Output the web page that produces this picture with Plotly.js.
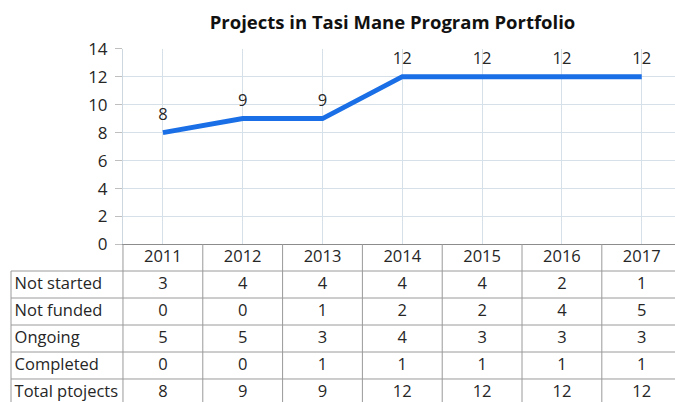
<!DOCTYPE html>
<html>
<head>
<meta charset="utf-8">
<script src="https://cdn.plot.ly/plotly-3.0.1.min.js"></script>
<style>
  html, body { margin: 0; padding: 0; background: #fff; }
  #gd { width: 675px; height: 402px; }
</style>
</head>
<body>
<div id="gd"></div>
<script>
// chart data
const years = ['2011', '2012', '2013', '2014', '2015', '2016', '2017'];
const totalProjects = [8, 9, 9, 12, 12, 12, 12];

// data table rows
const rowLabels = ['Not started', 'Not funded', 'Ongoing', 'Completed', 'Total ptojects'];
const notStarted = [3, 4, 4, 4, 4, 2, 1];
const notFunded = [0, 0, 1, 2, 2, 4, 5];
const ongoing = [5, 5, 3, 4, 3, 3, 3];
const completed = [0, 0, 1, 1, 1, 1, 1];
const tableRows = [notStarted, notFunded, ongoing, completed, totalProjects];

const FONT = '"Open Sans", "DejaVu Sans", sans-serif';
const TXT = '#262626';
const GRID = '#d6e0e9';
const BORDER = '#9a9a9a';
const LABEL_LEFT = -1.903;   // left border of the label column, in table x units
const FS = 16.5;

const idx = years.map((_, i) => i);

const traces = [];

// the line with its value labels
traces.push({
    x: years,
    y: totalProjects,
    type: 'scatter',
    mode: 'lines+markers+text',
    line: { color: '#1b6fe6', width: 5 },
    marker: { size: 12, color: 'rgba(0,0,0,0)' },
    text: totalProjects.map(String),
    textposition: 'top center',
    textfont: { family: FONT, size: FS, color: TXT },
    cliponaxis: false,
    hoverinfo: 'skip',
    xaxis: 'x',
    yaxis: 'y'
});

// header row of the table (years)
traces.push({
    x: idx,
    y: idx.map(() => 0.5),
    type: 'scatter',
    mode: 'text',
    text: years,
    textposition: 'middle center',
    textfont: { family: FONT, size: FS, color: TXT },
    cliponaxis: false,
    hoverinfo: 'skip',
    xaxis: 'x2',
    yaxis: 'y2'
});

// table body
tableRows.forEach((row, r) => {
    traces.push({
        x: idx,
        y: idx.map(() => r + 1.5),
        type: 'scatter',
        mode: 'text',
        text: row.map(String),
        textposition: 'middle center',
        textfont: { family: FONT, size: FS, color: TXT },
        cliponaxis: false,
        hoverinfo: 'skip',
        xaxis: 'x2',
        yaxis: 'y2'
    });
});

// row labels
traces.push({
    x: rowLabels.map(() => LABEL_LEFT + 0.045),
    y: rowLabels.map((_, r) => r + 1.5),
    type: 'scatter',
    mode: 'text',
    text: rowLabels,
    textposition: 'middle right',
    textfont: { family: FONT, size: FS, color: TXT },
    cliponaxis: false,
    hoverinfo: 'skip',
    xaxis: 'x2',
    yaxis: 'y2'
});

// table borders
const shapes = [];
for (let k = 0; k <= years.length; k++) {
    shapes.push({ type: 'line', xref: 'x2', yref: 'y2', x0: k - 0.5, x1: k - 0.5, y0: 0, y1: 6,
        line: { color: BORDER, width: 1 } });
}
shapes.push({ type: 'line', xref: 'x2', yref: 'y2', x0: LABEL_LEFT, x1: LABEL_LEFT, y0: 1, y1: 6,
    line: { color: BORDER, width: 1 } });
for (let r = 1; r <= rowLabels.length + 1; r++) {
    shapes.push({ type: 'line', xref: 'x2', yref: 'y2', x0: LABEL_LEFT, x1: years.length - 0.5, y0: r, y1: r,
        line: { color: BORDER, width: 1 } });
}

const layout = {
    width: 675,
    height: 402,
    margin: { l: 0, r: 0, t: 0, b: 0 },
    paper_bgcolor: '#fff',
    plot_bgcolor: 'rgba(0,0,0,0)',
    showlegend: false,
    font: { family: FONT, size: FS, color: TXT },
    title: {
        text: '<b>Projects in Tasi Mane Program Portfolio</b>',
        font: { family: FONT, size: 18.5, color: '#111' },
        x: 0.5815, xanchor: 'center', xref: 'paper',
        y: 0.943, yanchor: 'middle', yref: 'paper'
    },
    xaxis: {
        type: 'category',
        domain: [123 / 675, 1],
        range: [-0.5, 6.417],
        showgrid: true,
        gridcolor: GRID,
        showticklabels: false,
        ticks: '',
        showline: true,
        linecolor: '#8c8c8c',
        linewidth: 1,
        zeroline: false,
        fixedrange: true
    },
    yaxis: {
        domain: [0.3918, 0.8789],
        range: [0, 14],
        dtick: 2,
        showgrid: true,
        gridcolor: GRID,
        zeroline: false,
        showline: true,
        linecolor: '#cdd7e0',
        ticks: 'outside',
        ticklen: 7,
        tickcolor: '#bfbfbf',
        ticklabelstandoff: 4,
        tickfont: { family: FONT, size: 17, color: TXT },
        fixedrange: true
    },
    xaxis2: {
        domain: [0, 1],
        range: [-2.041, 6.417],
        visible: false,
        anchor: 'y2',
        fixedrange: true
    },
    yaxis2: {
        domain: [0, 0.393],
        range: [5.852, 0],
        visible: false,
        anchor: 'x2',
        fixedrange: true
    },
    shapes: shapes
};

Plotly.newPlot('gd', traces, layout, { staticPlot: true, displayModeBar: false });
</script>
</body>
</html>
